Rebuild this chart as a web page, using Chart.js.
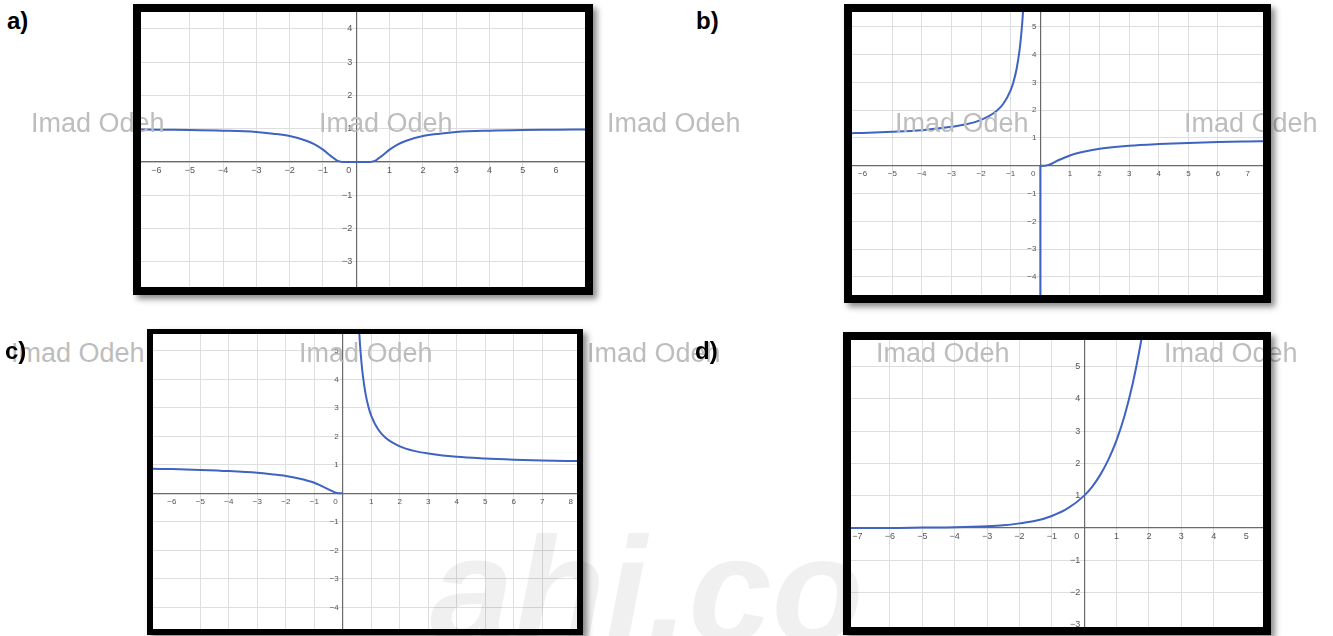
<!DOCTYPE html>
<html>
<head>
<meta charset="utf-8">
<script src="https://cdn.jsdelivr.net/npm/chart.js@4.4.0/dist/chart.umd.min.js"></script>
<style>
body { margin:0; background:#fff; width:1333px; height:636px; overflow:hidden; position:relative; font-family:"Liberation Sans", Arial, sans-serif; }
.plot { position:absolute; z-index:1; background:#fff; }
.frame { position:absolute; border:8px solid #000; box-shadow:4px 4px 6px rgba(0,0,0,0.45); z-index:3; pointer-events:none; }
.mark { position:absolute; font-size:27px; line-height:27px; color:#bdbdbd; white-space:nowrap; z-index:2; }
.tag { position:absolute; font-size:24px; font-weight:bold; color:#000; z-index:5; line-height:24px; }
.big { position:absolute; left:430px; top:515px; font-size:150px; line-height:150px; font-weight:bold; font-style:italic; color:rgba(0,0,0,0.06); z-index:6; white-space:nowrap; }
</style>
</head>
<body>
<div class="plot" style="left:141px;top:12px;width:444px;height:275px"><canvas id="chartA"></canvas></div>
<div class="plot" style="left:852px;top:12px;width:411px;height:283px"><canvas id="chartB"></canvas></div>
<div class="plot" style="left:153px;top:334px;width:424px;height:295px"><canvas id="chartC"></canvas></div>
<div class="plot" style="left:851px;top:340px;width:412px;height:287px"><canvas id="chartD"></canvas></div>

<div class="frame" style="left:133px;top:4px;width:444px;height:275px"></div>
<div class="frame" style="left:844px;top:4px;width:411px;height:283px"></div>
<div class="frame" style="left:147px;top:329px;width:424px;height:295px;border-width:5px 6px 6px 6px"></div>
<div class="frame" style="left:843px;top:332px;width:412px;height:287px"></div>

<div class="mark" style="left:31px;top:110px">Imad Odeh</div>
<div class="mark" style="left:319px;top:110px">Imad Odeh</div>
<div class="mark" style="left:607px;top:110px">Imad Odeh</div>
<div class="mark" style="left:895px;top:110px">Imad Odeh</div>
<div class="mark" style="left:1184px;top:110px">Imad Odeh</div>
<div class="mark" style="left:11px;top:340px">Imad Odeh</div>
<div class="mark" style="left:299px;top:340px">Imad Odeh</div>
<div class="mark" style="left:587px;top:340px">Imad Odeh</div>
<div class="mark" style="left:876px;top:340px">Imad Odeh</div>
<div class="mark" style="left:1164px;top:340px">Imad Odeh</div>

<div class="tag" style="left:7px;top:9px">a)</div>
<div class="tag" style="left:696px;top:9px">b)</div>
<div class="tag" style="left:5px;top:339px">c)</div>
<div class="tag" style="left:695px;top:339px">d)</div>

<div class="big">ahj.co</div>

<script>
// a)
var aX = [-6.5, -6, -5, -4, -3, -2.5, -2, -1.5, -1.25, -1, -0.75, -0.6, -0.5, -0.4, -0.3, 0, 0.3, 0.4, 0.5, 0.6, 0.75, 1, 1.25, 1.5, 2, 2.5, 3, 4, 5, 6, 6.9];
var aY = [0.98, 0.97, 0.96, 0.94, 0.9, 0.85, 0.78, 0.64, 0.53, 0.37, 0.17, 0.06, 0.02, 0, 0, 0, 0, 0, 0.02, 0.06, 0.17, 0.37, 0.53, 0.64, 0.78, 0.85, 0.9, 0.94, 0.96, 0.97, 0.98];
var aXTicks = [-6, -5, -4, -3, -2, -1, 0, 1, 2, 3, 4, 5, 6];
var aYTicks = [-3, -2, -1, 1, 2, 3, 4];

// b)
var bLeftX = [-6.4, -6, -5, -4, -3, -2.5, -2, -1.5, -1.25, -1, -0.9, -0.8, -0.7, -0.65, -0.6, -0.55];
var bLeftY = [1.17, 1.18, 1.22, 1.28, 1.4, 1.49, 1.65, 1.95, 2.23, 2.72, 3.04, 3.49, 4.17, 4.66, 5.29, 6.17];
var bRightX = [0, 0.1, 0.2, 0.3, 0.4, 0.5, 0.75, 1, 1.5, 2, 3, 4, 5, 6, 7, 7.6];
var bRightY = [0, 0, 0.01, 0.04, 0.08, 0.14, 0.26, 0.37, 0.51, 0.61, 0.72, 0.78, 0.82, 0.85, 0.87, 0.88];
var bVertX = [0, 0];
var bVertY = [0, -5];
var bXTicks = [-6, -5, -4, -3, -2, -1, 0, 1, 2, 3, 4, 5, 6, 7];
var bYTicks = [-4, -3, -2, -1, 1, 2, 3, 4, 5];

// c)
var cLeftX = [-6.7, -6, -5, -4, -3, -2.5, -2, -1.5, -1, -0.75, -0.5, -0.3, -0.2, 0];
var cLeftY = [0.86, 0.85, 0.82, 0.78, 0.72, 0.67, 0.61, 0.51, 0.37, 0.26, 0.14, 0.04, 0.01, 0];
var cRightX = [0.55, 0.6, 0.65, 0.7, 0.8, 0.9, 1, 1.25, 1.5, 2, 2.5, 3, 4, 5, 6, 7, 8.3];
var cRightY = [6.16, 5.29, 4.66, 4.17, 3.49, 3.04, 2.72, 2.23, 1.95, 1.65, 1.49, 1.4, 1.28, 1.22, 1.18, 1.15, 1.13];
var cXTicks = [-6, -5, -4, -3, -2, -1, 0, 1, 2, 3, 4, 5, 6, 7, 8];
var cYTicks = [-4, -3, -2, -1, 1, 2, 3, 4, 5];

// d)
var dX = [-7.2, -6, -5, -4, -3, -2.5, -2, -1.5, -1, -0.5, 0, 0.25, 0.5, 0.75, 1, 1.25, 1.5, 1.75, 1.85];
var dY = [0, 0, 0.01, 0.02, 0.05, 0.08, 0.14, 0.22, 0.37, 0.61, 1, 1.28, 1.65, 2.12, 2.72, 3.49, 4.48, 5.75, 6.36];
var dXTicks = [-7, -6, -5, -4, -3, -2, -1, 0, 1, 2, 3, 4, 5];
var dYTicks = [-3, -2, -1, 1, 2, 3, 4, 5];

var lineColor = "#3f63c2";

function pts(xs, ys) {
    return xs.map(function (x, i) { return {x: x, y: ys[i]}; });
}

function curve(xs, ys) {
    return {
        data: pts(xs, ys),
        borderColor: lineColor,
        borderWidth: 2,
        pointRadius: 0,
        cubicInterpolationMode: "monotone",
        fill: false
    };
}

var onlyInts = function (s) {
    s.ticks = s.ticks.filter(function (t) { return Number.isInteger(t.value); });
};

// tick labels drawn next to the axes, like a graphing calculator
var axisLabels = {
    id: "axisLabels",
    afterDraw: function (chart) {
        var o = chart.options.plugins.axisLabels;
        var ctx = chart.ctx;
        var xs = chart.scales.x, ys = chart.scales.y;
        var x0 = xs.getPixelForValue(0), y0 = ys.getPixelForValue(0);
        ctx.save();
        ctx.fillStyle = "#555";
        ctx.font = o.size + "px 'Liberation Sans', Arial, sans-serif";
        ctx.textBaseline = "top";
        o.xTicks.forEach(function (v) {
            var txt = v < 0 ? "\u2212" + (-v) : String(v);
            if (v === 0) {
                ctx.textAlign = "right";
                ctx.fillText(txt, x0 - 5, y0 + 4);
            } else {
                ctx.textAlign = "center";
                ctx.fillText(txt, xs.getPixelForValue(v), y0 + 4);
            }
        });
        ctx.textAlign = "right";
        ctx.textBaseline = "middle";
        o.yTicks.forEach(function (v) {
            var txt = v < 0 ? "\u2212" + (-v) : String(v);
            ctx.fillText(txt, x0 - 4, ys.getPixelForValue(v));
        });
        ctx.restore();
    }
};

function makeChart(id, datasets, xr, yr, xTicks, yTicks, size) {
    return new Chart(id, {
        type: "line",
        data: {datasets: datasets},
        options: {
            responsive: true,
            maintainAspectRatio: false,
            animation: false,
            events: [],
            layout: {padding: 0},
            plugins: {
                legend: {display: false},
                tooltip: {enabled: false},
                axisLabels: {xTicks: xTicks, yTicks: yTicks, size: size}
            },
            scales: {
                x: {
                    type: "linear",
                    min: xr[0], max: xr[1],
                    position: {y: 0},
                    afterBuildTicks: onlyInts,
                    ticks: {stepSize: 1, display: false},
                    grid: {color: "#dedede", lineWidth: 1, drawTicks: false},
                    border: {display: true, color: "#6a6a6a", width: 1.2}
                },
                y: {
                    type: "linear",
                    min: yr[0], max: yr[1],
                    position: {x: 0},
                    afterBuildTicks: onlyInts,
                    ticks: {stepSize: 1, display: false},
                    grid: {color: "#dedede", lineWidth: 1, drawTicks: false},
                    border: {display: true, color: "#6a6a6a", width: 1.2}
                }
            }
        },
        plugins: [axisLabels]
    });
}

makeChart("chartA", [curve(aX, aY)], [-6.465, 6.868], [-3.754, 4.505], aXTicks, aYTicks, 9);
makeChart("chartB", [curve(bLeftX, bLeftY), curve(bRightX, bRightY), curve(bVertX, bVertY)],
    [-6.36, 7.52], [-4.65, 5.53], bXTicks, bYTicks, 8);
makeChart("chartC", [curve(cLeftX, cLeftY), curve(cRightX, cRightY)],
    [-6.66, 8.22], [-4.76, 5.59], cXTicks, cYTicks, 8);
makeChart("chartD", [curve(dX, dY)], [-7.2, 5.52], [-3.07, 5.82], dXTicks, dYTicks, 9);
</script>
</body>
</html>
